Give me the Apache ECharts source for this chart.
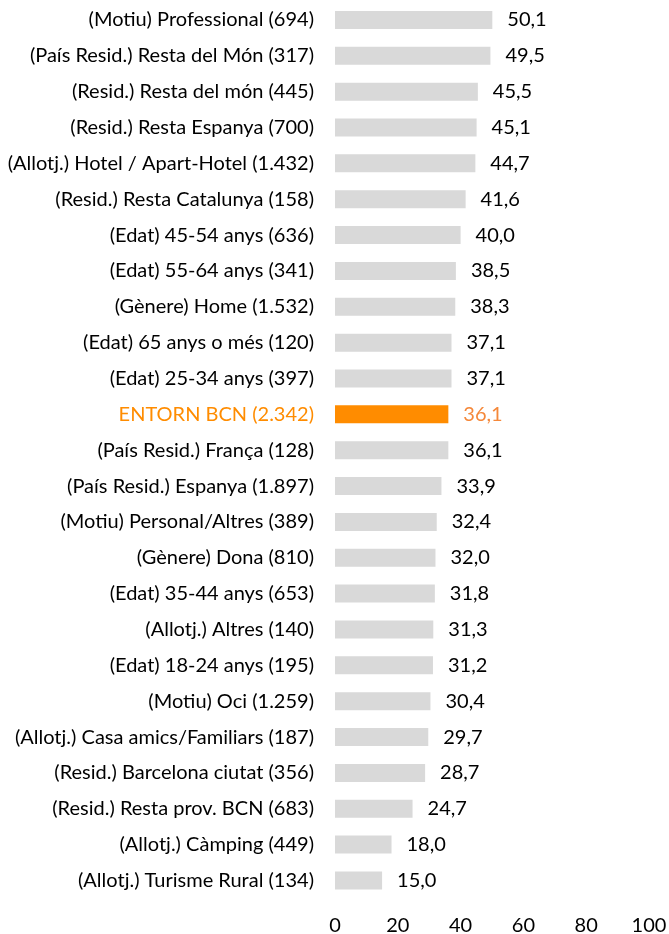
<!DOCTYPE html>
<html>
<head>
<meta charset="utf-8">
<style>
  html, body { margin: 0; padding: 0; background: #ffffff; }
  #chart { width: 669px; height: 934px; }
</style>
<script src="https://cdn.jsdelivr.net/npm/echarts@6/dist/echarts.min.js"></script>
</head>
<body>
<div id="chart"></div>
<script>
// Segments, listed top to bottom, with sample size in brackets
const categories = [
  '(Motiu) Professional (694)',
  '(País Resid.) Resta del Món (317)',
  '(Resid.) Resta del món (445)',
  '(Resid.) Resta Espanya (700)',
  '(Allotj.) Hotel / Apart-Hotel (1.432)',
  '(Resid.) Resta Catalunya (158)',
  '(Edat) 45-54 anys (636)',
  '(Edat) 55-64 anys (341)',
  '(Gènere) Home (1.532)',
  '(Edat) 65 anys o més (120)',
  '(Edat) 25-34 anys (397)',
  'ENTORN BCN (2.342)',
  '(País Resid.) França (128)',
  '(País Resid.) Espanya (1.897)',
  '(Motiu) Personal/Altres (389)',
  '(Gènere) Dona (810)',
  '(Edat) 35-44 anys (653)',
  '(Allotj.) Altres (140)',
  '(Edat) 18-24 anys (195)',
  '(Motiu) Oci (1.259)',
  '(Allotj.) Casa amics/Familiars (187)',
  '(Resid.) Barcelona ciutat (356)',
  '(Resid.) Resta prov. BCN (683)',
  '(Allotj.) Càmping (449)',
  '(Allotj.) Turisme Rural (134)'
];

const values = [
  50.1, 49.5, 45.5, 45.1, 44.7, 41.6, 40.0, 38.5, 38.3, 37.1, 37.1, 36.1, 36.1,
  33.9, 32.4, 32.0, 31.8, 31.3, 31.2, 30.4, 29.7, 28.7, 24.7, 18.0, 15.0
];

// Total row that gets the accent colour
const totalCategory = 'ENTORN BCN (2.342)';

const xTicks = [0, 20, 40, 60, 80, 100];

const FONT = 'Lato';
const FONT_SIZE = 20;
const GREY = '#D9D9D9';
const ORANGE = '#FF8C00';
const ORANGE_TEXT = '#F5883A';
const TEXT = '#000000';

const fmt = v => v.toFixed(1).replace('.', ',');

const seriesData = values.map((v, i) => {
  const isTotal = categories[i] === totalCategory;
  return {
    value: v,
    itemStyle: { color: isTotal ? ORANGE : GREY },
    label: { color: isTotal ? ORANGE_TEXT : TEXT }
  };
});

const chart = echarts.init(document.getElementById('chart'), null, { renderer: 'canvas' });

chart.setOption({
  animation: false,
  backgroundColor: '#ffffff',
  grid: {
    left: 335, right: 20, top: 2, bottom: 35.6,
    containLabel: false,
    outerBoundsMode: 'none'
  },
  xAxis: {
    type: 'value',
    min: xTicks[0],
    max: xTicks[xTicks.length - 1],
    interval: xTicks[1] - xTicks[0],
    axisLine: { show: false },
    axisTick: { show: false },
    splitLine: { show: false },
    axisLabel: {
      margin: 17,
      fontFamily: FONT,
      fontSize: FONT_SIZE,
      color: TEXT
    }
  },
  yAxis: {
    type: 'category',
    inverse: true,
    data: categories,
    axisLine: { show: false },
    axisTick: { show: false },
    splitLine: { show: false },
    axisLabel: {
      margin: 21,
      fontFamily: FONT,
      fontSize: FONT_SIZE,
      color: (value) => value === totalCategory ? ORANGE : TEXT
    }
  },
  series: [{
    type: 'bar',
    data: seriesData,
    barWidth: 18,
    label: {
      show: true,
      position: 'right',
      distance: 15,
      fontFamily: FONT,
      fontSize: FONT_SIZE,
      formatter: p => fmt(p.value)
    }
  }]
});
</script>
</body>
</html>
